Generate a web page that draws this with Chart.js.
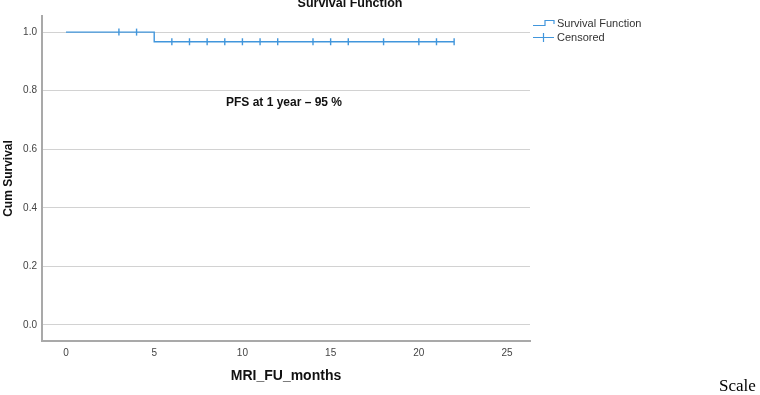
<!DOCTYPE html>
<html>
<head>
<meta charset="utf-8">
<script src="https://cdn.jsdelivr.net/npm/chart.js@4"></script>
<style>
html,body{margin:0;padding:0;background:#fff;}
#wrap{position:relative;width:760px;height:395px;}
canvas{display:block;}
</style>
</head>
<body>
<div id="wrap"><canvas id="c" width="760" height="395"></canvas></div>
<script>
// Data
const survTimes = [0, 5, 22];
const survValues = [1.0, 0.967, 0.967];
const censorTimes = [3, 4, 6, 7, 8, 9, 10, 11, 12, 14, 15, 16, 18, 20, 21, 22];
const censorValues = [1.0, 1.0, 0.967, 0.967, 0.967, 0.967, 0.967, 0.967, 0.967, 0.967, 0.967, 0.967, 0.967, 0.967, 0.967, 0.967];
const xTicks = [0, 5, 10, 15, 20, 25];
const yTicks = [0.0, 0.2, 0.4, 0.6, 0.8, 1.0];
const chartTitle = 'Survival Function';
const annotationText = 'PFS at 1 year \u2013 95 %';
const legendLabels = ['Survival Function', 'Censored'];

const LINE = '#4196dc';
const FONT = "'Liberation Sans', Arial, sans-serif";

const extras = {
  id: 'extras',
  afterDraw(chart) {
    const ctx = chart.ctx;
    const xs = chart.scales.x, ys = chart.scales.y;
    ctx.save();
    // title
    ctx.fillStyle = '#111';
    ctx.font = 'bold 12.5px ' + FONT;
    ctx.textAlign = 'center';
    ctx.textBaseline = 'middle';
    ctx.fillText(chartTitle, 350, 4);
    // annotation
    ctx.font = 'bold 12px ' + FONT;
    ctx.fillText(annotationText, 284, 103);
    // legend
    ctx.strokeStyle = LINE;
    ctx.lineWidth = 1.2;
    ctx.beginPath();
    ctx.moveTo(533, 25.5); ctx.lineTo(545, 25.5); ctx.lineTo(545, 20.5);
    ctx.lineTo(554, 20.5); ctx.lineTo(554, 24);
    ctx.stroke();
    ctx.beginPath();
    ctx.moveTo(533, 37.5); ctx.lineTo(554, 37.5);
    ctx.moveTo(543.5, 33); ctx.lineTo(543.5, 42);
    ctx.stroke();
    ctx.fillStyle = '#333';
    ctx.font = '11px ' + FONT;
    ctx.textAlign = 'left';
    ctx.fillText(legendLabels[0], 557, 24);
    ctx.fillText(legendLabels[1], 557, 38);
    // page text
    ctx.fillStyle = '#000';
    ctx.font = "17px 'Liberation Serif', 'Times New Roman', serif";
    ctx.textBaseline = 'alphabetic';
    ctx.fillText('Scale', 719, 391);
    ctx.restore();
  }
};

new Chart(document.getElementById('c'), {
  type: 'scatter',
  data: {
    datasets: [
      {
        label: legendLabels[0],
        data: survTimes.map((t, i) => ({x: t, y: survValues[i]})),
        showLine: true,
        stepped: 'before',
        borderColor: LINE,
        borderWidth: 1.4,
        pointRadius: 0,
        fill: false
      },
      {
        label: legendLabels[1],
        data: censorTimes.map((t, i) => ({x: t, y: censorValues[i]})),
        showLine: false,
        pointStyle: 'line',
        rotation: 90,
        pointRadius: 3.5,
        borderColor: LINE,
        backgroundColor: LINE,
        borderWidth: 1.4
      }
    ]
  },
  options: {
    responsive: false,
    animation: false,
    events: [],
    layout: {padding: {left: 0, right: 230, top: 16, bottom: 0}},
    plugins: {legend: {display: false}, tooltip: {enabled: false}, title: {display: false}},
    scales: {
      x: {
        type: 'linear',
        min: -1.36,
        max: 26.3,
        afterFit(s) { s.height = 54; },
        afterBuildTicks(s) { s.ticks = xTicks.map(v => ({value: v})); },
        grid: {display: false, drawTicks: false},
        border: {display: true, color: '#a9a9a9', width: 2},
        ticks: {color: '#444', font: {family: FONT, size: 10}, padding: 6, maxRotation: 0,
                callback: v => String(v)},
        title: {display: true, text: 'MRI_FU_months', color: '#111',
                font: {family: FONT, size: 14, weight: 'bold'}, padding: {top: 0, bottom: 10}}
      },
      y: {
        type: 'linear',
        min: -0.055,
        max: 1.055,
        afterFit(s) { s.width = 42; },
        afterBuildTicks(s) { s.ticks = yTicks.map(v => ({value: v})); },
        grid: {color: '#d2d2d2', lineWidth: 1, drawTicks: false},
        border: {display: true, color: '#a9a9a9', width: 2},
        ticks: {color: '#444', font: {family: FONT, size: 10}, padding: 5,
                callback: v => Number(v).toFixed(1)},
        title: {display: true, text: 'Cum Survival', color: '#111',
                font: {family: FONT, size: 12, weight: 'bold'}, padding: {top: 1, bottom: 0}}
      }
    }
  },
  plugins: [extras]
});
</script>
</body>
</html>
